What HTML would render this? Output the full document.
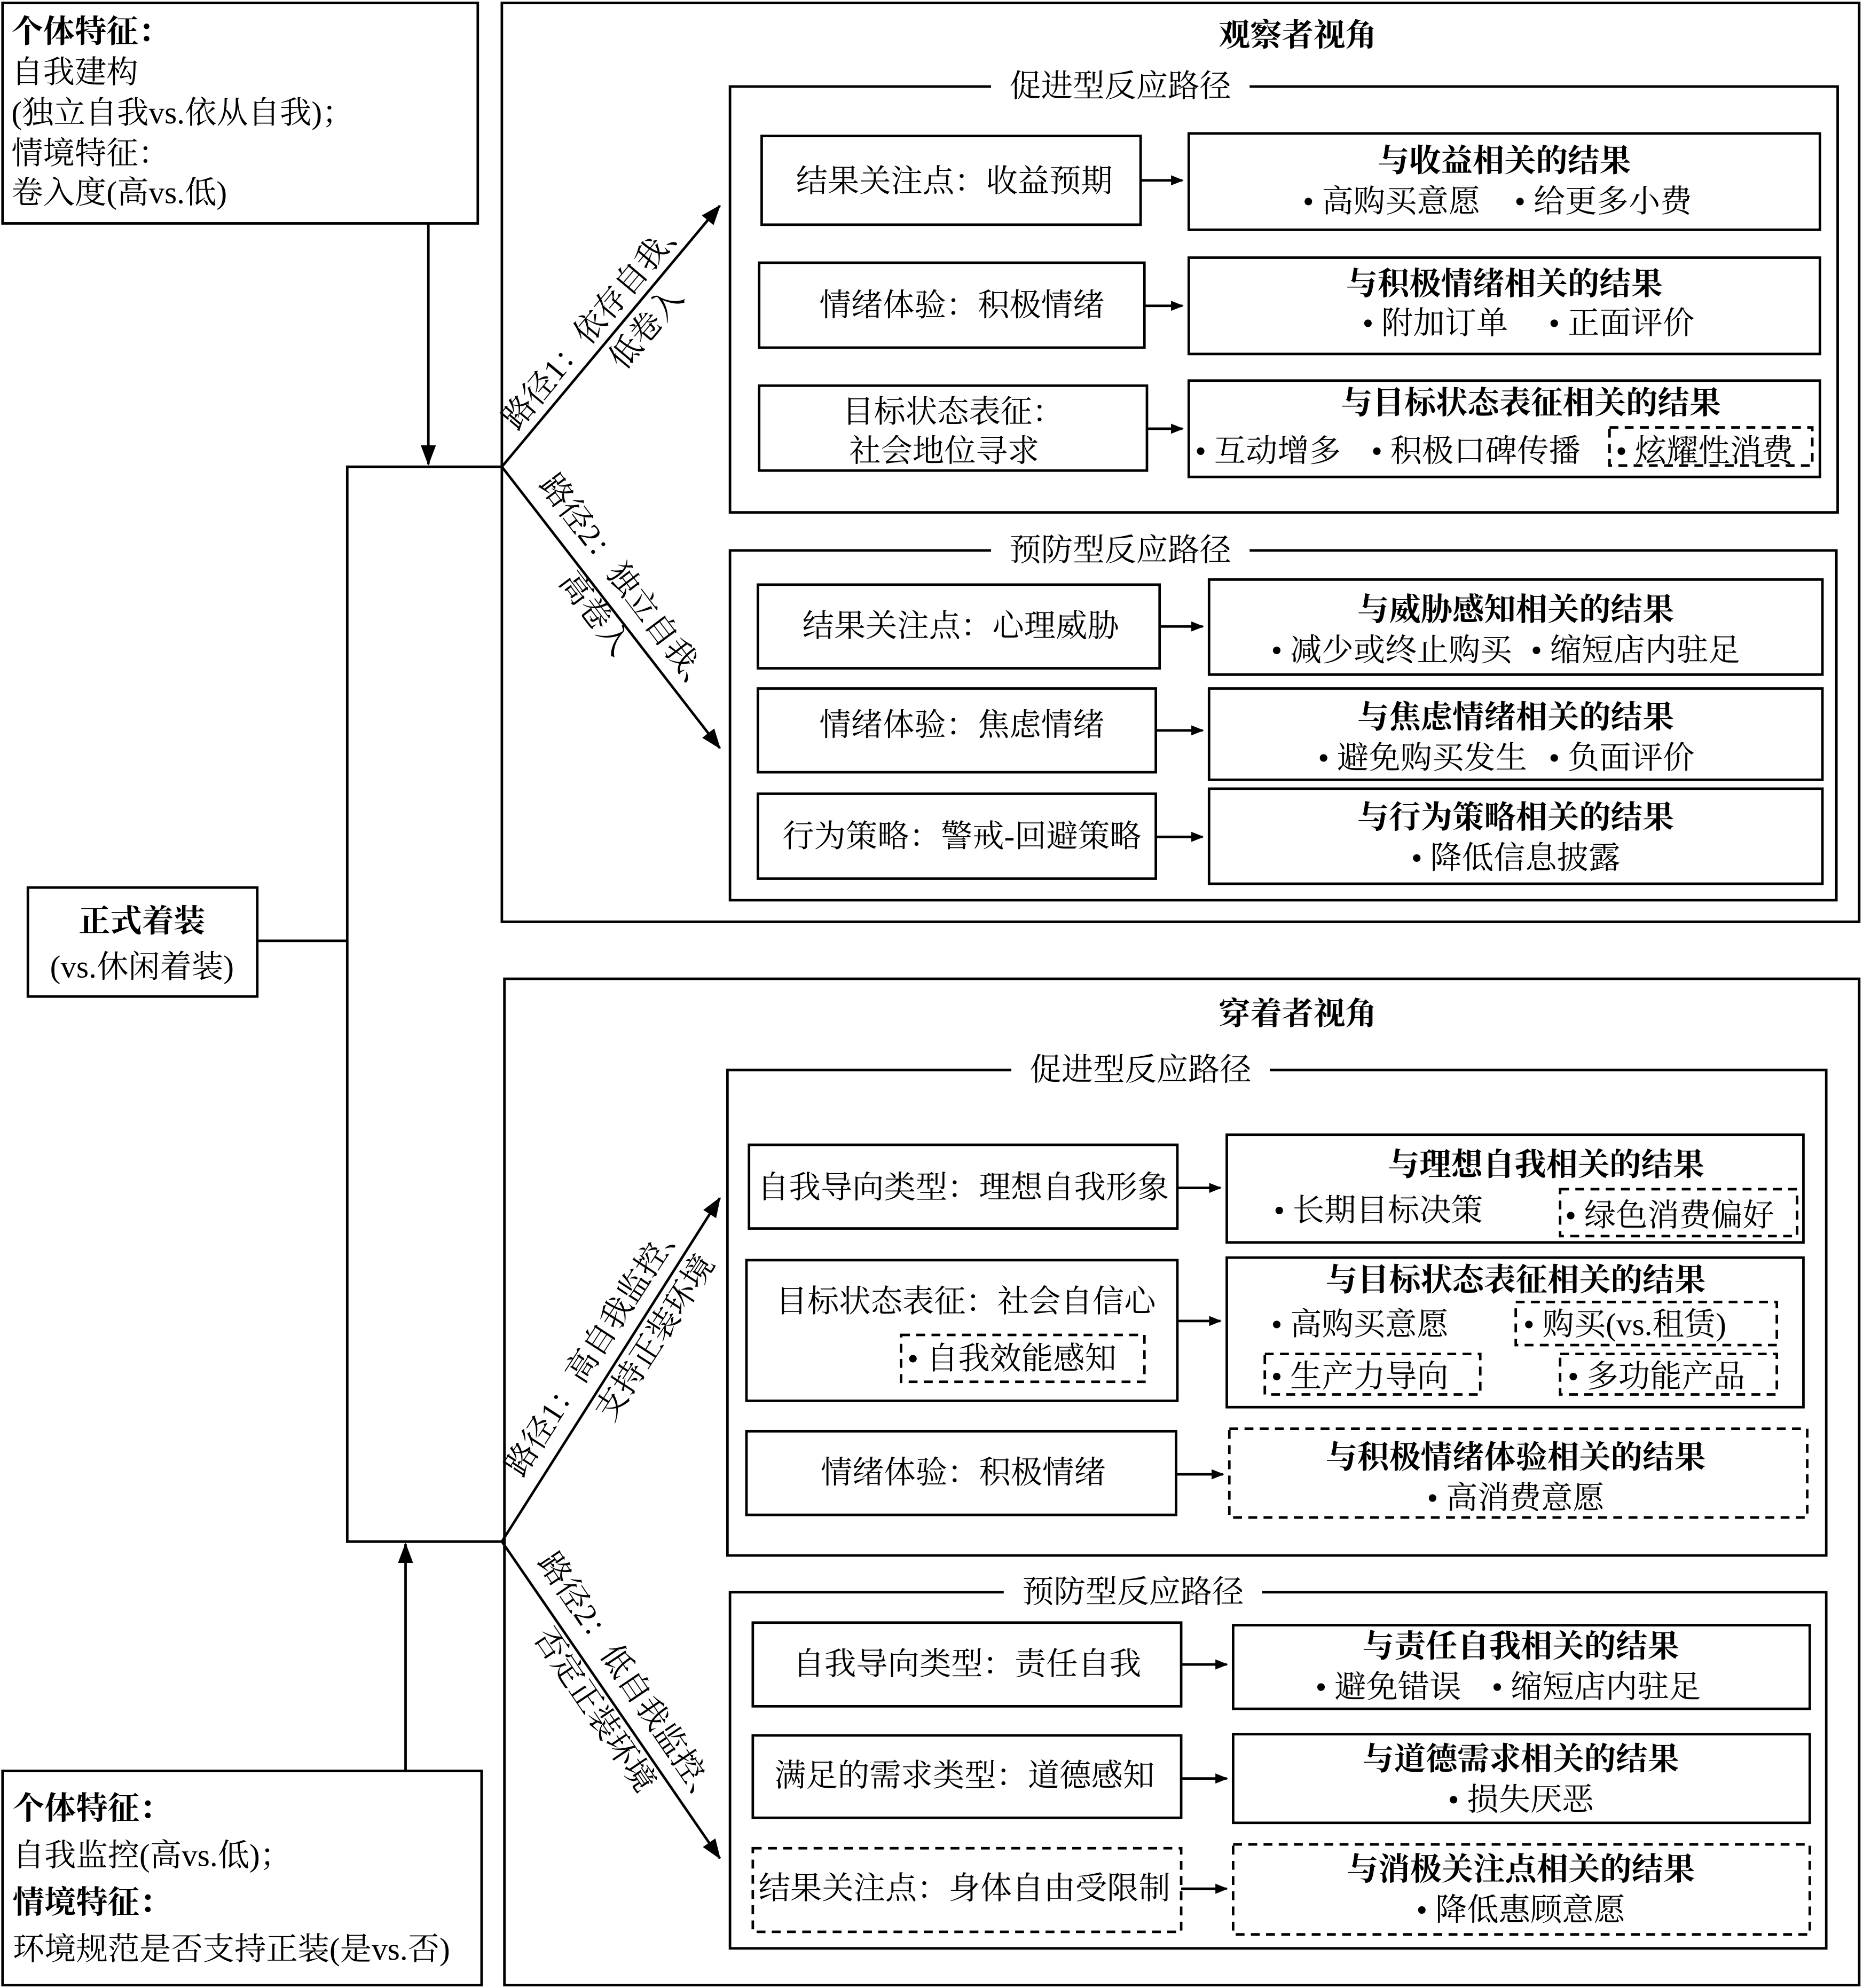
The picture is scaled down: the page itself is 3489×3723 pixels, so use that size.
<!DOCTYPE html>
<html><head><meta charset="utf-8">
<style>
html,body{margin:0;padding:0;background:#fff;}
svg{display:block;}
text{font-family:"Liberation Serif","Noto Serif CJK SC","Noto Sans CJK SC",serif;font-size:25px;fill:#000;}
.b{font-weight:bold;}
.m{text-anchor:middle;}
</style></head><body>
<svg width="3489" height="3723" viewBox="0 0 1470 1568" xmlns="http://www.w3.org/2000/svg">
<defs>
<marker id="a" markerWidth="10" markerHeight="8" refX="9" refY="4" orient="auto" markerUnits="userSpaceOnUse" viewBox="0 0 10 8">
<path d="M0,0 L10,4 L0,8 z" fill="#000"/></marker>
<marker id="A" markerWidth="16" markerHeight="12" refX="15" refY="6" orient="auto" markerUnits="userSpaceOnUse" viewBox="0 0 16 12">
<path d="M0,0 L16,6 L0,12 z" fill="#000"/></marker>
</defs>
<g fill="none" stroke="#000" stroke-width="2">
<rect x="2" y="2" width="375" height="174"/>
<rect x="22" y="700" width="181" height="86"/>
<rect x="2" y="1397" width="378" height="169"/>
<path d="M338,176 V366" marker-end="url(#A)"/>
<path d="M320,1397 V1218" marker-end="url(#A)"/>
<path d="M203,742 H274 M396,368 H274 V1216 H396"/>
<path d="M396,368 L568,162" marker-end="url(#A)"/>
<path d="M396,368 L568,590" marker-end="url(#A)"/>
<path d="M396,1216 L568,945" marker-end="url(#A)"/>
<path d="M396,1216 L568,1466" marker-end="url(#A)"/>
<rect x="396" y="2" width="1071" height="725"/>
<rect x="576" y="68" width="874" height="336"/>
<rect x="576" y="434" width="873" height="276"/>
<rect x="601" y="107" width="299" height="70"/><rect x="938" y="105" width="498" height="76"/>
<rect x="599" y="207" width="304" height="67"/><rect x="938" y="203" width="498" height="76"/>
<rect x="599" y="304" width="306" height="67"/><rect x="938" y="300" width="498" height="76"/>
<rect x="598" y="461" width="317" height="66"/><rect x="954" y="457" width="484" height="75"/>
<rect x="598" y="543" width="314" height="66"/><rect x="954" y="543" width="484" height="72"/>
<rect x="598" y="626" width="314" height="67"/><rect x="954" y="622" width="484" height="75"/>
<rect x="398" y="772" width="1069" height="794"/>
<rect x="574" y="844" width="867" height="383"/>
<rect x="576" y="1256" width="865" height="281"/>
<rect x="591" y="903" width="338" height="66"/><rect x="968" y="895" width="455" height="85"/>
<rect x="589" y="994" width="340" height="111"/><rect x="968" y="992" width="455" height="118"/>
<rect x="589" y="1129" width="339" height="66"/>
<rect x="594" y="1280" width="338" height="66"/><rect x="973" y="1282" width="455" height="66"/>
<rect x="594" y="1369" width="338" height="65"/><rect x="973" y="1368" width="455" height="70"/>
</g>
<g fill="none" stroke="#000" stroke-width="2" stroke-dasharray="7,5">
<rect x="1270" y="337" width="160" height="30"/>
<rect x="1231" y="938" width="187" height="37"/>
<rect x="711" y="1053" width="192" height="37"/>
<rect x="1196" y="1027" width="206" height="34"/>
<rect x="998" y="1068" width="170" height="32"/>
<rect x="1231" y="1068" width="171" height="32"/>
<rect x="970" y="1127" width="456" height="70"/>
<rect x="594" y="1458" width="338" height="66"/>
<rect x="973" y="1455" width="455" height="71"/>
</g>
<g stroke="#000" stroke-width="2">
<path d="M900,142 H933" marker-end="url(#a)"/>
<path d="M903,241 H933" marker-end="url(#a)"/>
<path d="M905,338 H933" marker-end="url(#a)"/>
<path d="M915,494 H949" marker-end="url(#a)"/>
<path d="M912,576 H949" marker-end="url(#a)"/>
<path d="M912,660 H949" marker-end="url(#a)"/>
<path d="M929,937 H963" marker-end="url(#a)"/>
<path d="M929,1042 H963" marker-end="url(#a)"/>
<path d="M928,1163 H965" marker-end="url(#a)"/>
<path d="M932,1313 H968" marker-end="url(#a)"/>
<path d="M932,1403 H968" marker-end="url(#a)"/>
<path d="M932,1490 H968" marker-end="url(#a)"/>
</g>
<g fill="#fff">
<rect x="782" y="54" width="204" height="28"/>
<rect x="782" y="420" width="204" height="28"/>
<rect x="798" y="830" width="204" height="28"/>
<rect x="792" y="1242" width="204" height="28"/>
</g>
<text x="9" y="33" class="b">个体特征：</text>
<text x="9" y="65">自我建构</text>
<text x="9" y="97">(独立自我vs.依从自我)；</text>
<text x="9" y="129">情境特征：</text>
<text x="9" y="160">卷入度(高vs.低)</text>
<text x="112" y="735" class="m b">正式着装</text>
<text x="112" y="771" class="m">(vs.休闲着装)</text>
<text x="10" y="1435" class="b">个体特征：</text>
<text x="10" y="1472">自我监控(高vs.低)；</text>
<text x="10" y="1509" class="b">情境特征：</text>
<text x="10" y="1546">环境规范是否支持正装(是vs.否)</text>
<g transform="translate(408,340) rotate(-50)"><text x="0" y="0">路径1：依存自我、</text><text x="128" y="34" class="m">低卷入</text></g>
<g transform="translate(425,382) rotate(53)"><text x="0" y="0">路径2：独立自我、</text><text x="108" y="34" class="m">高卷入</text></g>
<g transform="translate(412,1166) rotate(-57)"><text x="0" y="0">路径1：高自我监控、</text><text x="150" y="36" class="m">支持正装环境</text></g>
<g transform="translate(424,1232) rotate(56)"><text x="0" y="0">路径2：低自我监控、</text><text x="122" y="36" class="m">否定正装环境</text></g>
<text x="1024" y="36" class="m b">观察者视角</text>
<text x="884" y="76" class="m">促进型反应路径</text>
<text x="753" y="151" class="m">结果关注点：收益预期</text>
<text x="1187" y="135" class="m b">与收益相关的结果</text>
<text x="1028" y="167">• 高购买意愿</text><text x="1195" y="167">• 给更多小费</text>
<text x="759" y="249" class="m">情绪体验：积极情绪</text>
<text x="1187" y="232" class="m b">与积极情绪相关的结果</text>
<text x="1075" y="263">• 附加订单</text><text x="1222" y="263">• 正面评价</text>
<text x="752" y="333" class="m">目标状态表征：</text>
<text x="745" y="364" class="m">社会地位寻求</text>
<text x="1208" y="326" class="m b">与目标状态表征相关的结果</text>
<text x="943" y="364">• 互动增多</text><text x="1082" y="364">• 积极口碑传播</text><text x="1275" y="364">• 炫耀性消费</text>
<text x="884" y="442" class="m">预防型反应路径</text>
<text x="758" y="502" class="m">结果关注点：心理威胁</text>
<text x="1196" y="489" class="m b">与威胁感知相关的结果</text>
<text x="1003" y="521">• 减少或终止购买</text><text x="1208" y="521">• 缩短店内驻足</text>
<text x="759" y="580" class="m">情绪体验：焦虑情绪</text>
<text x="1196" y="574" class="m b">与焦虑情绪相关的结果</text>
<text x="1040" y="606">• 避免购买发生</text><text x="1222" y="606">• 负面评价</text>
<text x="759" y="668" class="m">行为策略：警戒-回避策略</text>
<text x="1196" y="653" class="m b">与行为策略相关的结果</text>
<text x="1196" y="685" class="m">• 降低信息披露</text>
<text x="1024" y="808" class="m b">穿着者视角</text>
<text x="900" y="852" class="m">促进型反应路径</text>
<text x="760" y="945" class="m">自我导向类型：理想自我形象</text>
<text x="1220" y="927" class="m b">与理想自我相关的结果</text>
<text x="1005" y="963">• 长期目标决策</text>
<text x="1235" y="967">• 绿色消费偏好</text>
<text x="762" y="1035" class="m">目标状态表征：社会自信心</text>
<text x="716" y="1080">• 自我效能感知</text>
<text x="1196" y="1018" class="m b">与目标状态表征相关的结果</text>
<text x="1003" y="1053">• 高购买意愿</text>
<text x="1202" y="1053">• 购买(vs.租赁)</text>
<text x="1003" y="1094">• 生产力导向</text>
<text x="1237" y="1094">• 多功能产品</text>
<text x="760" y="1170" class="m">情绪体验：积极情绪</text>
<text x="1196" y="1158" class="m b">与积极情绪体验相关的结果</text>
<text x="1196" y="1190" class="m">• 高消费意愿</text>
<text x="894" y="1264" class="m">预防型反应路径</text>
<text x="763" y="1321" class="m">自我导向类型：责任自我</text>
<text x="1200" y="1307" class="m b">与责任自我相关的结果</text>
<text x="1038" y="1339">• 避免错误</text><text x="1177" y="1339">• 缩短店内驻足</text>
<text x="761" y="1409" class="m">满足的需求类型：道德感知</text>
<text x="1200" y="1396" class="m b">与道德需求相关的结果</text>
<text x="1200" y="1428" class="m">• 损失厌恶</text>
<text x="761" y="1498" class="m">结果关注点：身体自由受限制</text>
<text x="1200" y="1483" class="m b">与消极关注点相关的结果</text>
<text x="1200" y="1515" class="m">• 降低惠顾意愿</text>
</svg>
</body></html>
